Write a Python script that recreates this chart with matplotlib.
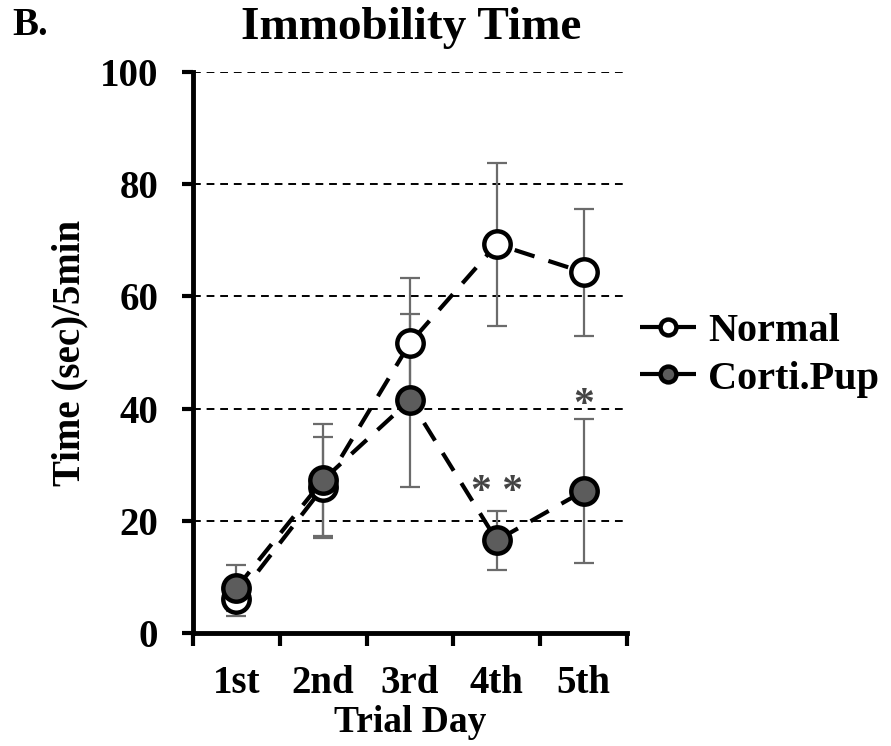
import matplotlib.pyplot as plt

plt.rcParams['font.family'] = ['Liberation Serif', 'DejaVu Serif']
plt.rcParams['font.weight'] = 'bold'

days = ['1st', '2nd', '3rd', '4th', '5th']
normal = [6.0, 26.0, 51.7, 69.3, 64.3]
normal_err = [3.0, 9.0, 11.6, 14.5, 11.3]
corti = [8.0, 27.3, 41.5, 16.5, 25.3]
corti_err = [4.1, 10.0, 15.4, 5.3, 12.9]

x = list(range(1, len(days) + 1))

fig = plt.figure(figsize=(8.91, 7.46), dpi=100)
ax = fig.add_axes([0.2166, 0.1515, 0.4871, 0.752])

for yv in [20, 40, 60, 80, 100]:
    ax.axhline(yv, color='black', lw=1.4, ls=(0, (4, 3)), zorder=1)

ax.errorbar(x, normal, yerr=normal_err, fmt='none', ecolor='#6b6b6b',
            elinewidth=1.6, capsize=7, capthick=1.6, zorder=2)
ax.errorbar(x, corti, yerr=corti_err, fmt='none', ecolor='#6b6b6b',
            elinewidth=1.6, capsize=7, capthick=1.6, zorder=2)

ax.plot(x, normal, ls=(0, (5, 3.5)), color='black', lw=3, marker='o',
        markersize=19, markerfacecolor='white', markeredgecolor='black',
        markeredgewidth=3.2, label='Normal', zorder=3)
ax.plot(x, corti, ls=(0, (5, 3.5)), color='black', lw=3, marker='o',
        markersize=19, markerfacecolor='#5c5c5c', markeredgecolor='black',
        markeredgewidth=3.2, label='Corti.Pup', zorder=4)

ax.text(4, 25.0, '* *', ha='center', va='center', fontsize=30,
        color='#444444', zorder=5)
ax.text(5, 40.5, '*', ha='center', va='center', fontsize=30,
        color='#444444', zorder=5)

ax.set_xlim(0.5, 5.5)
ax.set_ylim(0, 100)
ax.set_yticks([0, 20, 40, 60, 80, 100])
ax.set_xticks([0.5, 1.5, 2.5, 3.5, 4.5, 5.5])
ax.set_xticklabels([])
ax.set_xticks(x, minor=True)
ax.set_xticklabels(days, minor=True)
ax.tick_params(axis='x', which='major', length=9, width=3, direction='out')
ax.tick_params(axis='x', which='minor', length=0, pad=23, labelsize=28)
ax.tick_params(axis='y', length=8, width=3, direction='out', labelsize=28, pad=17)

for s in ['top', 'right']:
    ax.spines[s].set_visible(False)
for s in ['left', 'bottom']:
    ax.spines[s].set_linewidth(3.5)

ax.set_xlabel('Trial Day', fontsize=27, fontweight='bold', labelpad=2)
ax.set_ylabel('Time (sec)/5min', fontsize=28, fontweight='bold')
ax.yaxis.set_label_coords(-0.24, 0.5)

fig.suptitle('Immobility Time', x=0.461, y=0.99, fontsize=34, fontweight='bold')
fig.text(0.014, 0.953, 'B.', fontsize=28, fontweight='bold')

ax.legend(loc='center left', bbox_to_anchor=(1.03, 0.495), frameon=False,
          fontsize=29, handlelength=1.4, handletextpad=0.3, labelspacing=0.25,
          markerscale=0.6, borderpad=0, borderaxespad=0)

fig.savefig('out.png', dpi=100)
